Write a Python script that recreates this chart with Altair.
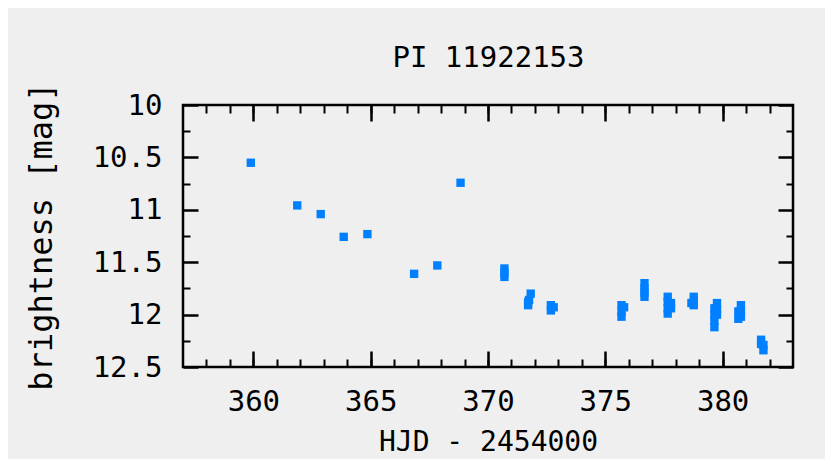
import altair as alt
import pandas as pd

title_text = "PI 11922153"
x_title = "HJD - 2454000"
y_title = "brightness [mag]"

hjd = [359.89, 361.87, 362.87, 363.85, 364.86, 366.85, 367.84, 368.83,
       370.70, 370.70, 370.70,
       371.82, 371.75, 371.71, 371.71,
       372.68, 372.68, 372.80,
       375.69, 375.69, 375.69, 375.80,
       376.67, 376.67, 376.67, 376.67,
       377.66, 377.66, 377.66, 377.66, 377.80, 377.80,
       378.77, 378.77, 378.77, 378.67,
       379.76, 379.76, 379.76, 379.65, 379.65, 379.65, 379.65,
       380.78, 380.78, 380.78, 380.67, 380.67,
       381.64, 381.64, 381.74, 381.74]
mag = [10.551, 10.958, 11.041, 11.258, 11.232, 11.611, 11.531, 10.742,
       11.56, 11.60, 11.64,
       11.80, 11.86, 11.88, 11.91,
       11.91, 11.96, 11.93,
       11.91, 11.97, 12.02, 11.93,
       11.70, 11.75, 11.79, 11.83,
       11.83, 11.88, 11.94, 11.99, 11.89, 11.94,
       11.83, 11.87, 11.91, 11.89,
       11.89, 11.95, 12.00, 11.94, 12.00, 12.06, 12.12,
       11.91, 11.96, 12.02, 11.97, 12.04,
       12.24, 12.28, 12.29, 12.34]

x_major = [360, 365, 370, 375, 380]
x_minor = list(range(358, 383))
y_major = [10, 10.5, 11, 11.5, 12, 12.5]
y_minor = [10.25, 10.75, 11.25, 11.75, 12.25]
x_domain = [357, 383]
y_domain = [10, 12.5]

df = pd.DataFrame({"hjd": hjd, "mag": mag})
FONT = "DejaVu Sans Mono"
BLUE = "#0080ff"


def xs(axis):
    return alt.X("hjd:Q", scale=alt.Scale(domain=x_domain, nice=False, zero=False), axis=axis)


def ys(axis):
    return alt.Y("mag:Q", scale=alt.Scale(domain=y_domain, reverse=True, nice=False, zero=False), axis=axis)


def tick_axis(orient, values, size, width, **kw):
    return alt.Axis(orient=orient, values=values, offset=-size, tickSize=size,
                    tickWidth=width, tickColor="black", grid=False, domain=False,
                    labels=False, **kw)


ax_b_major = alt.Axis(orient="bottom", values=x_major, offset=-16, tickSize=16, tickWidth=2.5,
                      tickColor="black", grid=False, domain=False, format="~g",
                      labelPadding=20, labelFont=FONT, labelFontSize=29, labelColor="black",
                      title=x_title, titleFont=FONT, titleFontSize=28, titleFontWeight="normal",
                      titleColor="black", titlePadding=12)
ax_l_major = alt.Axis(orient="left", values=y_major, offset=-15, tickSize=15, tickWidth=2.5,
                      tickColor="black", grid=False, domain=False, format="~g",
                      labelPadding=21, labelFont=FONT, labelFontSize=29, labelColor="black",
                      title=y_title, titleFont=FONT, titleFontSize=32, titleFontWeight="normal",
                      titleColor="black", titlePadding=34)
# top axis carries the chart heading as its title
ax_t_major = tick_axis("top", x_major, 16, 2.5,
                       title=title_text, titleFont=FONT, titleFontSize=29,
                       titleFontWeight="normal", titleColor="black",
                       titleBaseline="alphabetic", titlePadding=37)

points = alt.Chart(df).mark_square(size=70, color=BLUE, opacity=1).encode(
    x=xs(ax_b_major), y=ys(ax_l_major)
)
layer2 = alt.Chart(df).mark_square(size=70, opacity=0).encode(
    x=xs(tick_axis("bottom", x_minor, 8, 2, title=None)),
    y=ys(tick_axis("left", y_minor, 7, 2, title=None))
)
layer3 = alt.Chart(df).mark_square(size=70, opacity=0).encode(
    x=xs(ax_t_major),
    y=ys(tick_axis("right", y_major, 15, 2.5, title=None))
)
layer4 = alt.Chart(df).mark_square(size=70, opacity=0).encode(
    x=xs(tick_axis("top", x_minor, 8, 2, title=None)),
    y=ys(tick_axis("right", y_minor, 7, 2, title=None))
)

chart = alt.layer(layer2, layer3, layer4, points).resolve_axis(
    x="independent", y="independent"
).properties(
    width=610, height=262,
    autosize=alt.AutoSizeParams(type="none"),
    padding={"left": 175, "top": 97, "right": 32, "bottom": 92},
    background="#efefef",
).configure_view(stroke="black", strokeWidth=2.5)

chart.save("out.html", embed_options={"renderer": "svg", "actions": False})
